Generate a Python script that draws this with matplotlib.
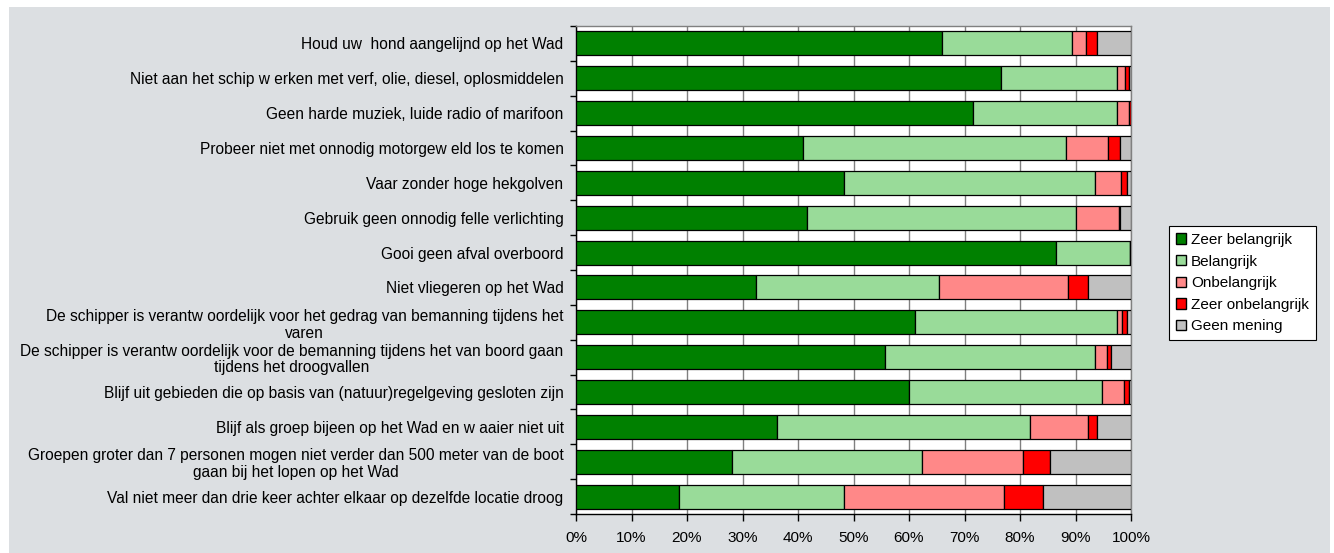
import numpy as np
import matplotlib.pyplot as plt
from matplotlib.patches import Rectangle

plt.rcParams["font.family"] = ["Liberation Sans", "DejaVu Sans"]

statements = [
    "Houd uw  hond aangelijnd op het Wad",
    "Niet aan het schip w erken met verf, olie, diesel, oplosmiddelen",
    "Geen harde muziek, luide radio of marifoon",
    "Probeer niet met onnodig motorgew eld los te komen",
    "Vaar zonder hoge hekgolven",
    "Gebruik geen onnodig felle verlichting",
    "Gooi geen afval overboord",
    "Niet vliegeren op het Wad",
    "De schipper is verantw oordelijk voor het gedrag van bemanning tijdens het\nvaren",
    "De schipper is verantw oordelijk voor de bemanning tijdens het van boord gaan\ntijdens het droogvallen",
    "Blijf uit gebieden die op basis van (natuur)regelgeving gesloten zijn",
    "Blijf als groep bijeen op het Wad en w aaier niet uit",
    "Groepen groter dan 7 personen mogen niet verder dan 500 meter van de boot\ngaan bij het lopen op het Wad",
    "Val niet meer dan drie keer achter elkaar op dezelfde locatie droog",
]

zeer_belangrijk = [65.9, 76.6, 71.6, 40.9, 48.2, 41.7, 86.4, 32.5, 61.0, 55.6, 60.0, 36.2, 28.1, 18.5]
belangrijk = [23.4, 20.8, 25.8, 47.4, 45.3, 48.3, 13.4, 32.9, 36.4, 37.9, 34.8, 45.6, 34.2, 29.7]
onbelangrijk = [2.6, 1.6, 2.3, 7.5, 4.7, 7.8, 0.0, 23.2, 1.0, 2.1, 4.0, 10.4, 18.3, 29.0]
zeer_onbelangrijk = [1.9, 0.6, 0.3, 2.2, 1.0, 0.2, 0.2, 3.6, 0.8, 0.8, 0.8, 1.6, 4.8, 6.9]
geen_mening = [6.2, 0.4, 0.0, 2.0, 0.8, 2.0, 0.0, 7.8, 0.8, 3.6, 0.4, 6.2, 14.6, 15.9]

series = [
    ("Zeer belangrijk", zeer_belangrijk, "#008000"),
    ("Belangrijk", belangrijk, "#99DB99"),
    ("Onbelangrijk", onbelangrijk, "#FF8888"),
    ("Zeer onbelangrijk", zeer_onbelangrijk, "#FF0000"),
    ("Geen mening", geen_mening, "#C0C0C0"),
]

W, H = 1334, 553
fig = plt.figure(figsize=(W / 100, H / 100), dpi=100)
fig.patch.set_facecolor("white")
# grey chart area behind everything
fig.patches.append(Rectangle((9 / W, 0), (1330 - 9) / W, (H - 7) / H,
                             transform=fig.transFigure, facecolor="#DCDFE2",
                             edgecolor="none", zorder=-10))

ax = fig.add_axes([576 / W, 1 - 514 / H, (1131 - 576) / W, (514 - 26) / H])
ax.set_facecolor("white")

y = np.arange(len(statements))
left = np.zeros(len(statements))
for name, vals, col in series:
    vals = np.array(vals)
    ax.barh(y, vals, left=left, height=0.69, color=col, edgecolor="black",
            linewidth=0.9, label=name, zorder=3)
    left += vals

ax.set_xlim(0, 100)
ax.set_ylim(len(statements) - 0.5, -0.5)
ax.set_xticks(np.arange(0, 101, 10))
ax.set_xticklabels([f"{v}%" for v in range(0, 101, 10)], fontsize=11)
ax.xaxis.grid(True, color="#808080", linewidth=1.0, zorder=1)
ax.set_axisbelow(True)

ax.set_yticks(y)
ax.set_yticklabels(statements, fontsize=11.2, multialignment="center", linespacing=1.15)
ax.set_yticks(np.arange(-0.5, len(statements), 1), minor=True)
ax.tick_params(axis="y", which="major", length=0, pad=9)
ax.tick_params(axis="y", which="minor", length=4, width=1, direction="out")
ax.tick_params(axis="x", length=5, width=1, direction="out", pad=7)

for s in ax.spines.values():
    s.set_color("black")
    s.set_linewidth(1.0)
ax.spines["top"].set_color("#808080")
ax.spines["right"].set_color("#808080")

leg = ax.legend(loc="upper left", bbox_to_anchor=(1169 / W, 1 - 226 / H),
                bbox_transform=fig.transFigure, fontsize=11, frameon=True,
                fancybox=False, shadow=False, framealpha=1, borderpad=0.45,
                labelspacing=0.5, handlelength=0.65, handleheight=0.65,
                handletextpad=0.35, borderaxespad=0)
leg.get_frame().set_edgecolor("black")
leg.get_frame().set_linewidth(0.8)
leg.get_frame().set_facecolor("white")
for h in leg.legend_handles:
    h.set_linewidth(1.0)

fig.savefig("out.png", dpi=100, facecolor=fig.get_facecolor())
